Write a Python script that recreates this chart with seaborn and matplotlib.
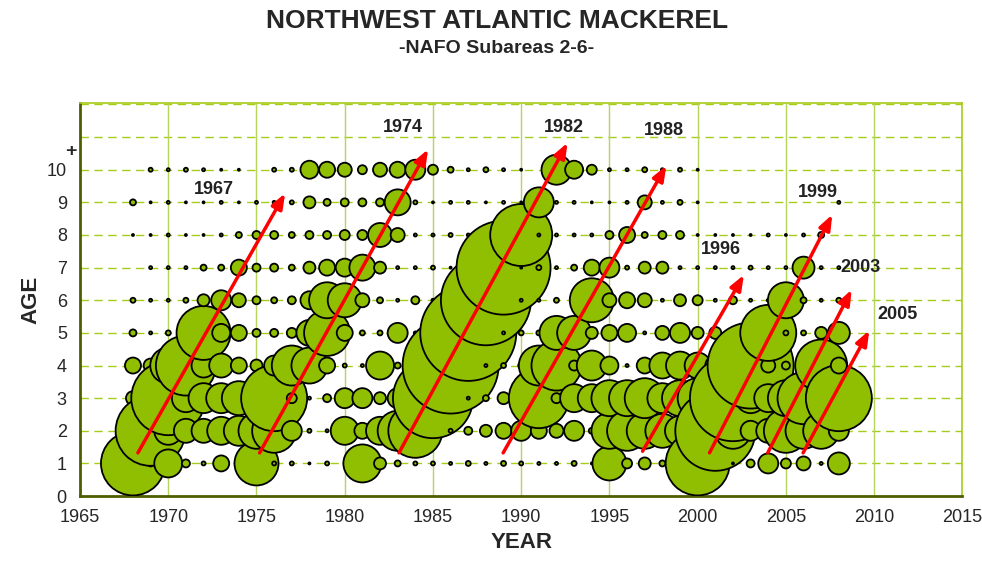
import numpy as np
import pandas as pd
import matplotlib
matplotlib.use("Agg")
import matplotlib.pyplot as plt
import seaborn as sns

# years 1968-2008, bubble radius (px), one list per age
years = list(range(1968, 2009))
age1 = [32, 3, 14, 4, 2, 8, 1, 22, 2, 2, 1, 2, 1, 19, 6, 3, 2, 2, 1.5, 2.5, 1.5, 2.5, 2, 1.5, 1.5, 2.5, 1, 17, 5, 6, 3, 1, 32, 1, 1, 4, 10, 5, 7, 1.5, 11]
age2 = [12, 35, 14, 12, 12, 14, 15, 18, 22, 10, 2, 1.5, 14, 8, 14, 20, 27, 4, 2, 4, 6, 8, 10, 8, 7, 10, 3, 18, 20, 18, 17, 15, 20, 40, 18, 10, 12, 22, 18, 18, 10]
age3 = [7, 14, 37, 14, 15, 15, 17, 14, 33, 5, 1.5, 4, 10, 10, 6, 10, 6, 40, 2, 1.5, 3, 6, 12, 30, 5, 14, 14, 18, 18, 20, 15, 18, 20, 20, 43, 15, 14, 18, 26, 8, 33]
age4 = [8, 7, 18, 30, 12, 12, 8, 6, 10, 20, 18, 8, 2, 1.5, 14, 3, 1.5, 2, 48, 1.5, 1.5, 2.5, 3, 20, 25, 5, 15, 9, 1.5, 8, 13, 14, 13, 10, 20, 43, 7, 4, 6, 26, 8]
age5 = [3.5, 1.5, 2.5, 1, 27, 9, 8, 4, 4, 5, 13, 23, 8, 2.5, 2.5, 10, 1.5, 1.5, 1.5, 48, 1.5, 1.5, 2.5, 2.5, 17, 17, 6, 8, 9, 1.5, 7, 10, 6, 6, 2.5, 1.5, 28, 2.5, 2.5, 6, 11]
age6 = [2.5, 1.5, 1.5, 2.5, 6, 10, 7, 4, 3, 4, 9, 18, 17, 7, 3, 1.5, 4, 1.5, 1.5, 1.5, 45, 1.5, 1.5, 1.5, 2.5, 3, 22, 7, 8, 7, 1.5, 6, 5, 1.5, 4, 1.5, 1.5, 18, 3, 1.5, 2.5]
age7 = [0, 1.5, 1.5, 1.5, 3, 3, 8, 4, 4, 3, 6, 8, 9, 13, 6, 1.5, 1.5, 2, 1, 1, 1, 47, 1, 2.5, 1.5, 3, 8, 10, 2, 6, 6, 1.5, 1.5, 1.5, 1.5, 2, 1.5, 1.5, 11, 1.5, 1.5]
age8 = [1, 1, 1.5, 1, 1, 1.5, 3, 4, 4, 3, 4, 4, 5, 5, 12, 7, 1.5, 1.5, 2, 1.5, 1.5, 1, 31, 1.5, 1.5, 1.5, 1.5, 4, 8, 3, 4, 4, 1, 1, 1, 1, 1.5, 1, 1.5, 3, 0]
age9 = [3, 1, 1.5, 1, 1, 1.5, 1, 1.5, 1.5, 2, 6, 3.5, 4, 4, 4, 13, 2, 1, 1.5, 1.5, 1, 1.5, 1, 15, 1.5, 1.5, 1, 1, 1.5, 7, 1.5, 2.5, 1, 0, 0, 0, 0, 0, 0, 0, 1.5]
age10 = [0, 2, 1.5, 2, 1.5, 1, 1, 0, 2, 2, 9, 8, 7, 4.5, 7, 8, 10, 5, 3, 1.5, 2.5, 1.5, 1, 0, 15, 9, 5, 1.5, 1.5, 2.5, 1.5, 2, 1, 0, 0, 0, 0, 0, 0, 0, 0]
ages = [age1, age2, age3, age4, age5, age6, age7, age8, age9, age10]

# year classes: label, arrow tail, arrow head, label position
cohorts = ["1967", "1974", "1982", "1988", "1996", "1999", "2003", "2005"]
tails = [(1968.2, 1.25), (1975.1, 1.25), (1983.0, 1.25), (1988.9, 1.25),
         (1996.8, 1.3), (2000.6, 1.25), (2003.9, 1.25), (2005.9, 1.25)]
heads = [(1976.7, 9.35), (1984.8, 10.7), (1992.7, 10.9), (1998.3, 10.2),
         (2002.7, 6.85), (2007.7, 8.7), (2008.8, 6.4), (2009.8, 5.15)]
label_pos = [(1972.6, 9.4), (1983.3, 11.3), (1992.4, 11.3), (1998.1, 11.2),
             (2001.3, 7.55), (2006.8, 9.3), (2009.2, 7.0), (2011.3, 5.55)]

rows = []
for yi, yr in enumerate(years):
    for ai, arr in enumerate(ages):
        if arr[yi] > 0:
            rows.append({"year": yr, "age": ai + 1, "r": arr[yi]})
df = pd.DataFrame(rows)
df["s"] = (1.44 * df["r"]) ** 2

sns.set_style("white")
plt.rcParams['font.family'] = ['Liberation Sans Narrow', 'Liberation Sans', 'DejaVu Sans']

fig = plt.figure(figsize=(9.82, 5.65), dpi=100)
ax = fig.add_axes([0.0815, 0.122, 0.8985, 0.696])

green = "#a6cc1a"
for y in range(1, 13):
    ax.axhline(y, color=green, lw=1, ls=(0, (6, 4)), zorder=0)
for x in range(1970, 2015, 5):
    ax.axvline(x, color="#b5d65a", lw=1, zorder=0)

smin, smax = df["s"].min(), df["s"].max()
sns.scatterplot(data=df, x="year", y="age", size="s", sizes=(smin, smax),
                size_norm=(smin, smax), color="#8fbf00", edgecolor="black",
                linewidth=1.3, legend=False, ax=ax, zorder=3)

for lab, t, h, lp in zip(cohorts, tails, heads, label_pos):
    ax.annotate("", xy=h, xytext=t, zorder=5,
                arrowprops=dict(arrowstyle="-|>,head_length=0.9,head_width=0.35",
                                color="red", lw=2.5))
    ax.text(lp[0], lp[1], lab, fontsize=13, fontweight="bold",
            ha="center", va="center", color="#222222", zorder=6)

ax.set_xlim(1965, 2015)
ax.set_ylim(0, 12.05)
ax.set_xticks(range(1965, 2016, 5))
ax.set_xticks(range(1965, 2016), minor=True)
ax.set_yticks(range(0, 11))
ax.set_yticks(np.arange(0, 12.01, 0.5), minor=True)
ax.tick_params(axis="both", which="major", length=6, direction="out", labelsize=13, color="#333333")
ax.tick_params(axis="both", which="minor", length=4, direction="out", color="#333333")
for s in ["left", "bottom"]:
    ax.spines[s].set_color("#4d5e00")
    ax.spines[s].set_linewidth(2)
for s in ["right", "top"]:
    ax.spines[s].set_color("#a6cc1a")
    ax.spines[s].set_linewidth(1.2)
ax.text(-0.01, 10.55, "+", transform=ax.get_yaxis_transform(), fontsize=14,
        fontweight="bold", ha="center", va="center")

ax.set_xlabel("YEAR", fontsize=16, fontweight="bold")
ax.set_ylabel("AGE", fontsize=16, fontweight="bold")
fig.text(0.506, 0.963, "NORTHWEST ATLANTIC MACKEREL", ha="center", va="center",
         fontsize=19, fontweight="bold")
fig.text(0.506, 0.915, "-NAFO Subareas 2-6-", ha="center", va="center",
         fontsize=14, fontweight="bold")

fig.savefig("out.png", dpi=100)
